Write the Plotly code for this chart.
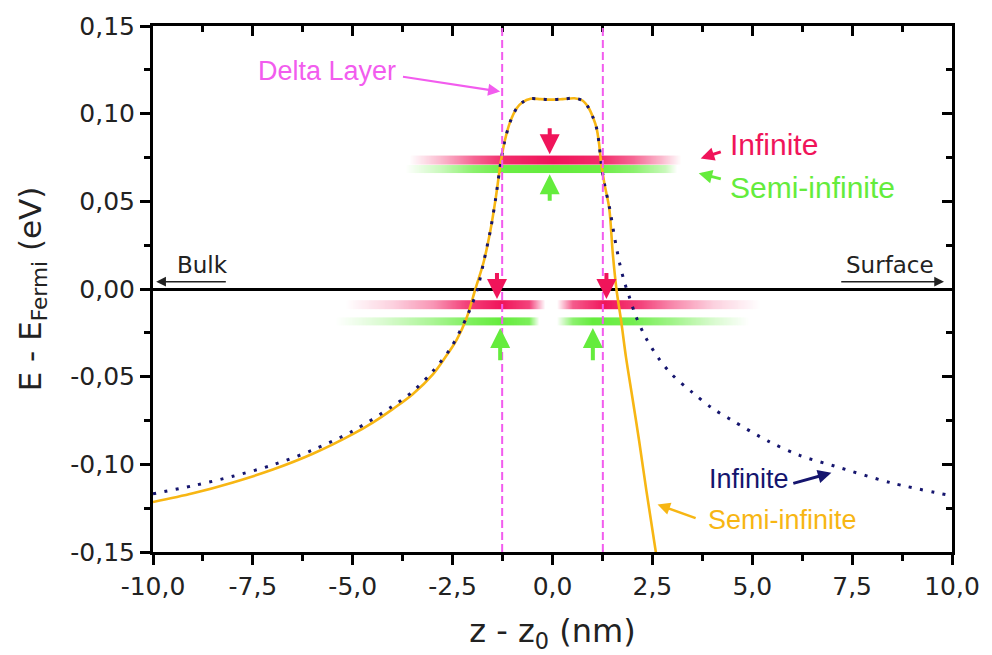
import plotly.graph_objects as go

# ---------------- data ----------------
semi_x = [-10.0, -9.0, -8.0, -7.0, -6.0, -5.0, -4.5, -4.0, -3.5, -3.0, -2.7, -2.4, -2.15,
          -1.93, -1.72, -1.55, -1.42, -1.30, -1.20, -1.06, -0.90, -0.75, -0.55, -0.30,
          -0.05, 0.25, 0.55, 0.75, 0.90, 1.02, 1.10, 1.16, 1.22, 1.30, 1.42, 1.51, 1.60,
          1.72, 1.84, 2.00, 2.17, 2.35, 2.62]
semi_y = [-0.1215, -0.1165, -0.1103, -0.1030, -0.0940, -0.0828, -0.0762, -0.0685, -0.0600,
          -0.0488, -0.0395, -0.0290, -0.0165, 0.0000, 0.0157, 0.0340, 0.0520, 0.0716,
          0.0840, 0.0953, 0.1030, 0.1065, 0.1085, 0.1083, 0.1080, 0.1083, 0.1088, 0.1075,
          0.1035, 0.0975, 0.0920, 0.0840, 0.0716, 0.0600, 0.0460, 0.0200, 0.0000, -0.0185,
          -0.0390, -0.0620, -0.0868, -0.1150, -0.1550]

inf_x = [-10.0, -9.0, -8.0, -7.0, -6.0, -5.0, -4.0, -3.5, -3.0, -2.55, -2.13, -1.88,
         -1.72, -1.55, -1.42, -1.30, -1.20, -1.06, -0.90, -0.75, -0.55, -0.30, -0.05, 0.25,
         0.55, 0.75, 0.90, 1.02, 1.10, 1.16, 1.22, 1.30, 1.43, 1.55, 1.68, 1.80, 1.93, 2.09,
         2.34, 2.67, 3.0, 3.5, 4.0, 4.5, 5.4, 6.2, 7.06, 8.47, 10.0]
inf_y = [-0.1168, -0.1122, -0.1068, -0.1003, -0.0918, -0.0810, -0.0668, -0.0585, -0.0470,
         -0.0337, -0.0151, 0.0000, 0.0157, 0.0340, 0.0520, 0.0716, 0.0840, 0.0953,
         0.1030, 0.1065, 0.1085, 0.1083, 0.1080, 0.1083, 0.1088, 0.1075, 0.1035, 0.0975,
         0.0920, 0.0840, 0.0716, 0.0600, 0.0460, 0.0300, 0.0147, 0.0040, -0.0050, -0.0157,
         -0.0280, -0.0400, -0.0490, -0.0590, -0.0680, -0.0750, -0.0868, -0.0950, -0.1010,
         -0.1105, -0.1180]

delta_layer_edges = [-1.26, 1.26]

x_ticks = [-10, -7.5, -5, -2.5, 0, 2.5, 5, 7.5, 10]
x_tick_labels = ["-10,0", "-7,5", "-5,0", "-2,5", "0,0", "2,5", "5,0", "7,5", "10,0"]
y_ticks = [-0.15, -0.10, -0.05, 0.0, 0.05, 0.10, 0.15]
y_tick_labels = ["-0,15", "-0,10", "-0,05", "0,00", "0,05", "0,10", "0,15"]

# energy-level bands (kind, energy, x stops, relative intensity)
band_kind = ["Infinite", "Semi-infinite", "Infinite", "Infinite", "Semi-infinite", "Semi-infinite"]
band_energy = [0.0735, 0.0684, -0.0090, -0.0090, -0.0185, -0.0185]
band_x = [
    [-3.6, -2.8, -2.0, -1.2, 0.0, 1.2, 2.0, 2.7, 3.2],
    [-3.7, -2.8, -2.0, -1.2, 0.0, 1.2, 2.0, 2.8, 3.1],
    [-5.2, -4.0, -3.0, -2.2, -1.3, -0.6, -0.2],
    [0.1, 0.5, 1.3, 2.2, 3.0, 4.0, 5.2],
    [-5.45, -4.2, -3.0, -2.0, -1.3, -0.6, -0.35],
    [0.1, 0.5, 1.0, 2.0, 3.0, 4.0, 4.9],
]
band_w = [
    [0.0, 0.3, 0.65, 0.9, 1.0, 0.9, 0.65, 0.3, 0.0],
    [0.0, 0.35, 0.75, 0.95, 1.0, 0.95, 0.75, 0.35, 0.0],
    [0.0, 0.2, 0.45, 0.8, 1.0, 0.8, 0.0],
    [0.0, 0.7, 1.0, 0.8, 0.5, 0.2, 0.0],
    [0.0, 0.25, 0.55, 0.85, 1.0, 0.85, 0.0],
    [0.0, 0.75, 1.0, 0.9, 0.6, 0.25, 0.0],
]

# short arrows marking the levels: (kind, x, y_tail, y_tip)
level_arrow_kind = ["Infinite", "Infinite", "Infinite", "Semi-infinite", "Semi-infinite", "Semi-infinite"]
level_arrow_x = [-0.07, -1.39, 1.35, -0.07, -1.31, 1.01]
level_arrow_tail = [0.0925, 0.0100, 0.0100, 0.0495, -0.0415, -0.0415]
level_arrow_tip = [0.0768, -0.0057, -0.0057, 0.0654, -0.0222, -0.0222]

# ---------------- styling ----------------
ORANGE = "#F7B613"
NAVY = "#15156E"
MAGENTA = "#F25CEE"
RED_RGB = "240,20,90"
GREEN_RGB = "100,236,60"
RED = "rgb(%s)" % RED_RGB
GREEN = "rgb(%s)" % GREEN_RGB
AX_FONT = "DejaVu Sans"
TXT_FONT = "Liberation Sans, Arial"

fig = go.Figure()

# gradient bands
for kind, e, xs, ws in zip(band_kind, band_energy, band_x, band_w):
    h = 0.0052 if kind == "Infinite" else 0.0046
    rgb = RED_RGB if kind == "Infinite" else GREEN_RGB
    fig.add_trace(go.Heatmap(
        x=xs, y=[e - h / 2, e, e + h / 2], z=[ws, ws], zmin=0, zmax=1,
        zsmooth="best", showscale=False, hoverinfo="skip",
        colorscale=[[0, "rgba(%s,0)" % rgb], [1, "rgba(%s,1)" % rgb]],
    ))

fig.add_trace(go.Scatter(x=semi_x, y=semi_y, mode="lines", name="Semi-infinite",
                         line=dict(color=ORANGE, width=2.6, shape="spline", smoothing=0.9)))
fig.add_trace(go.Scatter(x=inf_x, y=inf_y, mode="lines", name="Infinite",
                         line=dict(color=NAVY, width=3, dash="3px,8.5px", shape="spline", smoothing=0.9)))
# invisible trace to carry the mirrored top/right axes
fig.add_trace(go.Scatter(x=[None], y=[None], xaxis="x2", yaxis="y2", showlegend=False, hoverinfo="skip"))

for xe in delta_layer_edges:
    fig.add_vline(x=xe, line=dict(color=MAGENTA, width=2, dash="8px,4px"))

annotations = []


def arrow(x, y, ax, ay, color, width, size=1.0, head=2):
    annotations.append(dict(x=x, y=y, ax=ax, ay=ay, xref="x", yref="y", axref="x", ayref="y",
                            text="", showarrow=True, arrowhead=head, arrowsize=size,
                            arrowwidth=width, arrowcolor=color, standoff=0, startstandoff=0))


def label(x, y, text, color, size, anchor="left", family=TXT_FONT):
    annotations.append(dict(x=x, y=y, xref="x", yref="y", text=text, showarrow=False,
                            xanchor=anchor, yanchor="middle",
                            font=dict(family=family, size=size, color=color)))


for kind, xa, yt, yh in zip(level_arrow_kind, level_arrow_x, level_arrow_tail, level_arrow_tip):
    arrow(xa, yh, xa, yt, RED if kind == "Infinite" else GREEN, 4, 1.0)

label(-7.42, 0.1246, "Delta Layer", MAGENTA, 27)
arrow(-1.31, 0.1126, -3.78, 0.1212, MAGENTA, 2.2, 1.1)

label(4.40, 0.0825, "Infinite", RED, 30)
arrow(3.71, 0.0745, 4.25, 0.0785, RED, 3, 0.9)
label(4.40, 0.0580, "Semi-infinite", GREEN, 30)
arrow(3.66, 0.0660, 4.25, 0.0626, GREEN, 3, 0.9)

label(3.87, -0.1081, "Infinite", NAVY, 27)
arrow(6.98, -0.1048, 5.99, -0.1111, NAVY, 3, 0.9)
label(3.83, -0.1320, "Semi-infinite", ORANGE, 27)
arrow(2.63, -0.1229, 3.62, -0.1310, ORANGE, 2.5, 1.0)

label(-9.44, 0.0137, "Bulk", "#222222", 23, family=AX_FONT)
arrow(-9.92, 0.0042, -8.14, 0.0042, "#222222", 1.5, 1.3)
label(9.60, 0.0137, "Surface", "#222222", 23, anchor="right", family=AX_FONT)
arrow(9.80, 0.0042, 7.19, 0.0042, "#222222", 1.5, 1.3)

axis_common = dict(showgrid=False, showline=True, linewidth=3, linecolor="black",
                   tickwidth=2.5, tickcolor="black", ticklen=10)

fig.update_layout(
    width=992, height=655,
    margin=dict(l=153, r=34, t=24, b=103),
    paper_bgcolor="white", plot_bgcolor="white",
    showlegend=False,
    font=dict(family=AX_FONT, color="#222222"),
    xaxis=dict(range=[-10, 10], tickmode="array", tickvals=x_ticks, ticktext=x_tick_labels,
               ticks="outside", tickfont=dict(size=25, family=AX_FONT, color="#222222"),
               minor=dict(dtick=1.25, tick0=0, ticks="outside", ticklen=6, tickwidth=2.5, tickcolor="black"),
               zeroline=False,
               title=dict(text="z - z<sub>0</sub> (nm)", font=dict(size=32, family=AX_FONT, color="#222222"),
                          standoff=20),
               **axis_common),
    yaxis=dict(range=[-0.15, 0.15], tickmode="array", tickvals=y_ticks, ticktext=y_tick_labels,
               ticks="outside", tickfont=dict(size=25, family=AX_FONT, color="#222222"),
               minor=dict(dtick=0.025, tick0=0, ticks="outside", ticklen=6, tickwidth=2.5, tickcolor="black"),
               zeroline=True, zerolinecolor="black", zerolinewidth=3,
               title=dict(text="E - E<sub>Fermi</sub> (eV)", font=dict(size=31, family=AX_FONT, color="#222222"),
                          standoff=20),
               **axis_common),
    xaxis2=dict(overlaying="x", side="top", range=[-10, 10], tickmode="array", tickvals=x_ticks,
                ticks="inside", showticklabels=False, zeroline=False,
                minor=dict(dtick=1.25, tick0=0, ticks="inside", ticklen=6, tickwidth=2.5, tickcolor="black"),
                **axis_common),
    yaxis2=dict(overlaying="y", side="right", range=[-0.15, 0.15], tickmode="array", tickvals=y_ticks,
                ticks="inside", showticklabels=False, zeroline=False,
                minor=dict(dtick=0.025, tick0=0, ticks="inside", ticklen=6, tickwidth=2.5, tickcolor="black"),
                **axis_common),
    annotations=annotations,
)

fig.write_html("out.html")
